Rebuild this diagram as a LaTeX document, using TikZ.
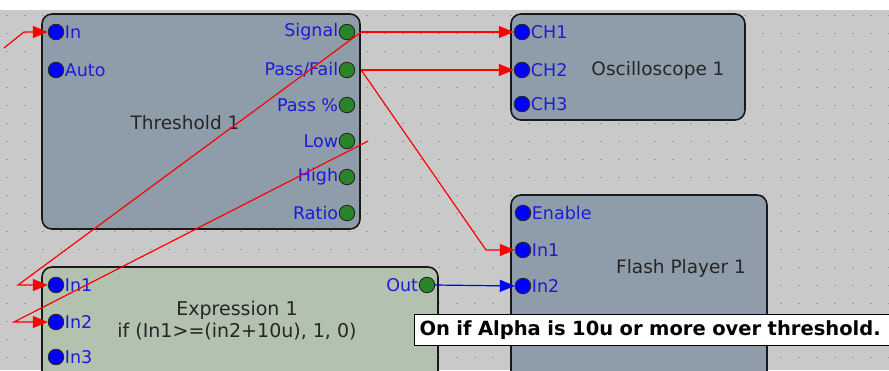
\documentclass[tikz,border=0pt]{standalone}
\usepackage{fontspec}
\setmainfont{DejaVu Sans}
\usetikzlibrary{arrows.meta}
\definecolor{bggrey}{HTML}{C9C9C9}
\definecolor{dotgrey}{HTML}{9C9C9C}
\definecolor{boxgrey}{HTML}{8E9DA9}
\definecolor{exgreen}{HTML}{B2C2AE}
\definecolor{portgreen}{HTML}{2A842A}
\definecolor{labblue}{HTML}{1C1CD8}
\begin{document}
\begin{tikzpicture}[x=1pt,y=-1pt,
    blk/.style={draw=black!90,line width=1.6pt,rounded corners=10pt,fill=boxgrey},
    inp/.style={circle,draw=black!85,line width=0.9pt,fill=blue,minimum size=15.5pt,inner sep=0},
    outp/.style={circle,draw=black!85,line width=0.9pt,fill=portgreen,minimum size=15.5pt,inner sep=0},
    plab/.style={text=labblue,font=\fontsize{17.5}{17.5}\selectfont,inner sep=0.5pt},
    title/.style={text=black!85,font=\fontsize{18.5}{18.5}\selectfont,inner sep=0},
    wire/.style={red,line width=1.2pt,-{Triangle[length=15pt,width=12pt]},shorten >=0pt},
    bwire/.style={wire,blue}]
  \useasboundingbox (0,0) rectangle (889,370);
  \clip (0,0) rectangle (889,370);
  \fill[bggrey] (0,0) rectangle (889,370);
  \fill[white] (0,0) rectangle (889,10);
  \foreach \y in {0,...,19}
    \draw[dotgrey,line width=1.5pt,dash pattern=on 1.5pt off 16.5pt] (6,15.3+18*\y) -- (889,15.3+18*\y);
  % blocks
  \draw[blk] (42,14) rectangle (360,229);
  \draw[blk] (511,14) rectangle (745,120);
  \draw[blk] (511,195) rectangle (767,400);
  \draw[blk,fill=exgreen] (42,267) rectangle (438,400);
  \node[title] (thr) at (185,123) {Threshold 1};
  \node[title] (osc) at (658,70) {Oscilloscope 1};
  \node[title] (fp) at (681,268) {Flash Player 1};
  \node[title,align=center,font=\fontsize{19}{22}\selectfont] (ex) at (237,321) {Expression 1\\if (In1>=(in2+10u), 1, 0)};
  % ports
  \foreach \n/\t/\y in {thin/In/32,thauto/Auto/70}{
    \node[inp] (\n) at (56,\y) {};
    \node[plab,anchor=west] at (\n.east) {\t};}
  \foreach \n/\t/\y in {thsig/Signal/32,thpf/{Pass/Fail}/70,thpp/{Pass \%}/105,thlow/Low/141,thhigh/High/177,thratio/Ratio/213}{
    \node[outp] (\n) at (347,\y) {};
    \node[plab,anchor=east] at (\n.west) {\t};}
  \foreach \n/\t/\y in {ch1/CH1/32,ch2/CH2/70,ch3/CH3/104}{
    \node[inp] (\n) at (522,\y) {};
    \node[plab,anchor=west] at (\n.east) {\t};}
  \foreach \n/\t/\y in {fpen/Enable/213,fpin1/In1/250,fpin2/In2/286}{
    \node[inp] (\n) at (523,\y) {};
    \node[plab,anchor=west] at (\n.east) {\t};}
  \foreach \n/\t/\y in {exin1/In1/285,exin2/In2/322,exin3/In3/357}{
    \node[inp] (\n) at (56,\y) {};
    \node[plab,anchor=west] at (\n.east) {\t};}
  \node[outp] (exout) at (427,285) {};
  \node[plab,anchor=east] at (exout.west) {Out};
  % wires
  \coordinate (src) at (4,48);
  \draw[wire] (src) -- (24,32) -- (thin.west);
  \draw[wire] (thsig.east) ++(6,0) -- (ch1.west);
  \draw[wire] (thpf.east) ++(6,0) -- (ch2.west);
  \draw[wire] (thsig.east) ++(6,0) -- (18,285) -- (exin1.west);
  \draw[wire] (thlow.east) ++(13,0) -- (14,322) -- (exin2.west);
  \draw[wire] (thpf.east) ++(6,0) -- (486,250) -- (fpin1.west);
  \draw[bwire] (exout.east) -- (fpin2.west);
  % tooltip
  \node[draw=black,line width=1pt,fill=white,anchor=north west,minimum height=31pt,minimum width=480pt,
    text width=470pt,inner xsep=4pt,font=\bfseries\fontsize{19.5}{19.5}\selectfont] (tip) at (414,314)
    {On if Alpha is 10u or more over threshold.};
\end{tikzpicture}
\end{document}
